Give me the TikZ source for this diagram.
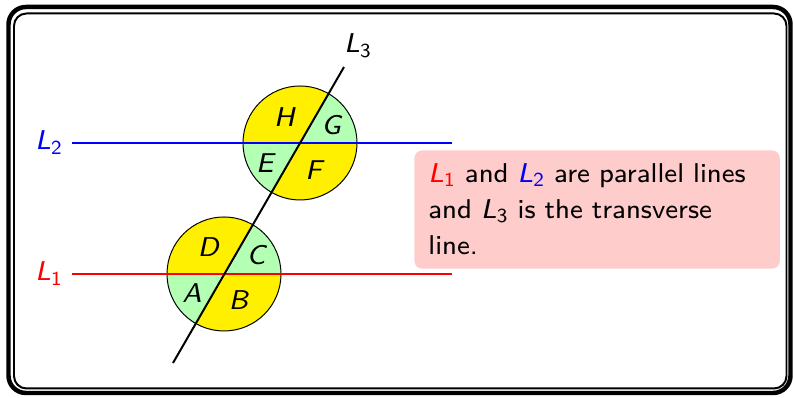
\documentclass[tikz,border=0pt]{standalone}
\usepackage{fontspec}
\setsansfont{lmsans8-regular.otf}[ItalicFont=lmsans8-oblique.otf]
\usepackage{xcolor}
\usepackage{tikz}
\usetikzlibrary{positioning}
\definecolor{secyellow}{RGB}{255,240,0}
\definecolor{secgreen}{RGB}{179,255,179}
\definecolor{notepink}{RGB}{255,204,204}
\newcommand{\Lname}[1]{\textit{L}\textsubscript{#1}}
\newcommand{\angname}[1]{\textit{#1}}

\begin{document}
\begin{tikzpicture}[
    x=0.403pt, y=0.403pt,
    font=\sffamily\fontsize{10.95}{14.5}\selectfont,
    parline/.style={line width=0.8pt},
    secline/.style={draw=black, line width=0.4pt},
    letter/.style={anchor=base, inner sep=0pt},
    note/.style={fill=notepink, rounded corners=3pt, anchor=north west, text width=136pt, align=left,
        inner xsep=5.6pt, minimum height=47.6pt}
]
\useasboundingbox (0,0) rectangle (794,398);
% frame
\draw[line width=1.8pt, rounded corners=7pt] (8.5,391) rectangle (790.5,5);
\draw[line width=0.8pt, rounded corners=5pt] (14,384.5) rectangle (786.5,9.5);

\coordinate (o2) at (300,255);
\coordinate (o1) at (224,124);

% sectors
\foreach \o in {o1,o2} {
  \fill[secgreen] (\o) -- ++(0:57) arc[start angle=0, end angle=60, radius=57] -- cycle;
  \fill[secyellow] (\o) -- ++(60:57) arc[start angle=60, end angle=180, radius=57] -- cycle;
  \fill[secgreen] (\o) -- ++(180:57) arc[start angle=180, end angle=240, radius=57] -- cycle;
  \fill[secyellow] (\o) -- ++(240:57) arc[start angle=240, end angle=360, radius=57] -- cycle;
  \draw[secline] (\o) circle[radius=57];
}

\coordinate (l2w) at (72,255);
\coordinate (l2e) at (452,255);
\coordinate (l1w) at (72,124);
\coordinate (l1e) at (452,124);
\coordinate (l3s) at (173,35);
\coordinate (l3n) at (344,331);

\draw[parline, blue] (l2w) -- (l2e);
\draw[parline, red] (l1w) -- (l1e);
\draw[parline, black] (l3s) -- (l3n);

\node[letter, anchor=base west, text=blue] (lab2) at (35,248) {\Lname{2}};
\node[letter, anchor=base west, text=red] (lab1) at (35,117) {\Lname{1}};
\node[letter, anchor=base west] (lab3) at (344,345) {\Lname{3}};

\node[letter] (H) at (285,271) {\angname{H}};
\node[letter] (G) at (332,263) {\angname{G}};
\node[letter] (E) at (266,225) {\angname{E}};
\node[letter] (F) at (315,218) {\angname{F}};
\node[letter] (D) at (209,141) {\angname{D}};
\node[letter] (C) at (257,133) {\angname{C}};
\node[letter] (A) at (192,95) {\angname{A}};
\node[letter] (B) at (239,88) {\angname{B}};

\node[note] (txt) at (414,248) {\textcolor{red}{\Lname{1}} and \textcolor{blue}{\Lname{2}} are parallel lines\\
and \Lname{3} is the transverse\\
line.};
\end{tikzpicture}
\end{document}
